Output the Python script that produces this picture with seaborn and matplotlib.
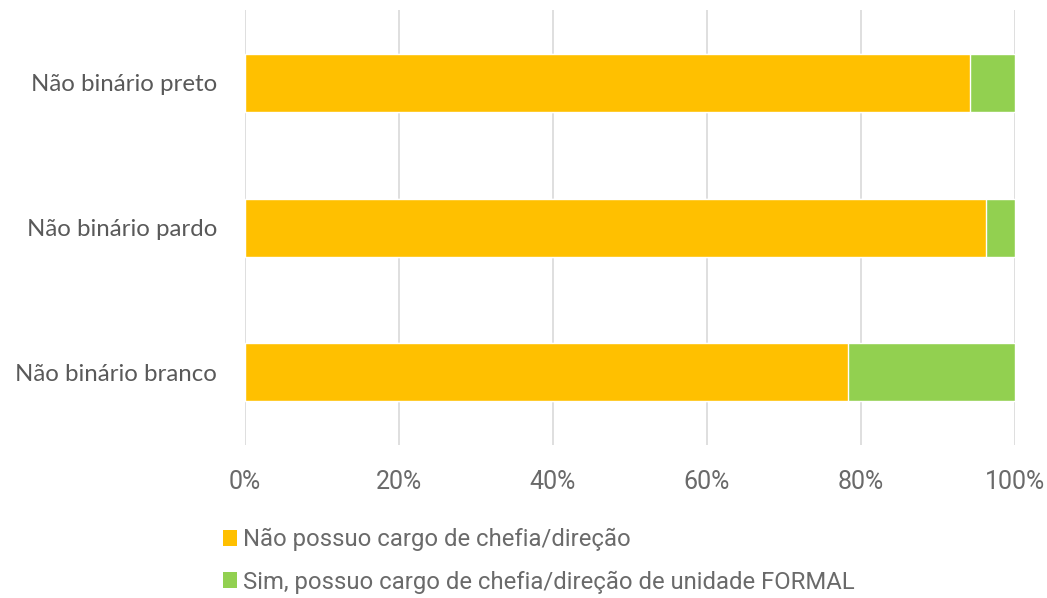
import matplotlib
matplotlib.use("Agg")
import matplotlib.pyplot as plt
import seaborn as sns
import pandas as pd
import numpy as np
from matplotlib.patches import Patch
from matplotlib.ticker import FuncFormatter

categories = ["Não binário preto", "Não binário pardo", "Não binário branco"]
nao_possuo = [94.2, 96.2, 78.3]
sim_possuo = [5.8, 3.8, 21.7]
series_names = ["Não possuo cargo de chefia/direção",
                "Sim, possuo cargo de chefia/direção de unidade FORMAL"]
xticks = [0, 20, 40, 60, 80, 100]

YELLOW = "#FFC000"
GREEN = "#92D050"
GRID = "#d9d9d9"
TXT = "#595959"
TXT2 = "#6a6a6a"

sns.set_theme(style="white")
plt.rcParams['font.family'] = ['Lato', 'DejaVu Sans']

df = pd.DataFrame({"cat": categories, "nao": nao_possuo, "sim": sim_possuo})
df["total"] = df["nao"] + df["sim"]

fig = plt.figure(figsize=(10.47, 5.98), dpi=100)
ax = fig.add_axes([0.234, 0.256, 0.7355, 0.727])

sns.barplot(data=df, y="cat", x="total", color=GREEN, orient="h", width=0.4,
            saturation=1, ax=ax, zorder=3)
sns.barplot(data=df, y="cat", x="nao", color=YELLOW, orient="h", width=0.4,
            saturation=1, ax=ax, zorder=3)

ax.set_xlim(0, 100)
ax.set_ylim(2.5, -0.5)
ax.set_xticks(xticks)
ax.xaxis.set_major_formatter(FuncFormatter(lambda v, p: f"{v:.0f}%"))
ax.grid(axis="x", color=GRID, linewidth=1.2, zorder=0)
ax.grid(axis="y", visible=False)
ax.set_axisbelow(True)
for s in ax.spines.values():
    s.set_visible(False)
ax.set_xlabel("")
ax.set_ylabel("")
ax.tick_params(axis="x", length=0, pad=18, labelsize=18, labelcolor=TXT2)
ax.tick_params(axis="y", length=0, pad=20, labelsize=17.3, labelcolor=TXT)
for lab in ax.get_xticklabels():
    lab.set_family(['Roboto', 'DejaVu Sans'])

handles = [Patch(facecolor=YELLOW, edgecolor="none"), Patch(facecolor=GREEN, edgecolor="none")]
leg = fig.legend(handles, series_names, loc="upper left", bbox_to_anchor=(0.213, 0.117),
                 frameon=False, borderpad=0, borderaxespad=0,
                 handlelength=0.6, handleheight=0.68, handletextpad=0.25,
                 labelspacing=0.8, prop={'family': ['Roboto', 'DejaVu Sans'], 'size': 17.2})
for t in leg.get_texts():
    t.set_color(TXT2)

fig.savefig("out.png", dpi=100, facecolor="white")
